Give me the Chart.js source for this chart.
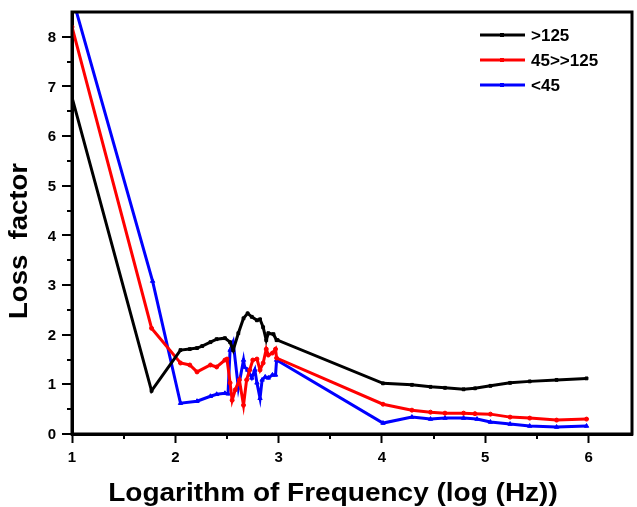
<!DOCTYPE html>
<html>
<head>
<meta charset="utf-8">
<script src="https://cdn.jsdelivr.net/npm/chart.js@4.4.1/dist/chart.umd.min.js"></script>
<style>
  html, body { margin: 0; padding: 0; background: #fff; }
  #wrap { width: 637px; height: 507px; }
</style>
</head>
<body>
<div id="wrap"><canvas id="lossChart" width="637" height="507"></canvas></div>
<script>
// values
const seriesNames = ['>125', '45>>125', '<45'];
const xTitle = 'Logarithm of Frequency (log (Hz))';
const yTitle = 'Loss  factor';

const blackX = [1.0, 1.77, 2.05, 2.14, 2.21, 2.26, 2.34, 2.40, 2.48, 2.53, 2.56, 2.61, 2.66, 2.70, 2.74, 2.79, 2.82, 2.85, 2.88, 2.90, 2.95, 2.98, 2.99,
  4.01, 4.29, 4.47, 4.61, 4.79, 4.90, 5.05, 5.24, 5.43, 5.69, 5.98];
const blackY = [6.78, 0.87, 1.69, 1.71, 1.73, 1.77, 1.85, 1.91, 1.93, 1.85, 1.69, 2.03, 2.33, 2.43, 2.36, 2.29, 2.31, 2.15, 1.89, 2.03, 2.01, 1.89, 1.89,
  1.02, 0.99, 0.95, 0.93, 0.90, 0.92, 0.97, 1.03, 1.06, 1.09, 1.12];

const redX = [1.0, 1.77, 2.05, 2.14, 2.21, 2.34, 2.40, 2.48, 2.50, 2.53, 2.55, 2.58, 2.62, 2.66, 2.69, 2.72, 2.75, 2.79, 2.82, 2.85, 2.88, 2.90, 2.94, 2.97, 2.98,
  4.01, 4.29, 4.47, 4.61, 4.79, 4.90, 5.05, 5.24, 5.43, 5.69, 5.98];
const redY = [8.2, 2.13, 1.43, 1.39, 1.25, 1.39, 1.35, 1.49, 1.51, 1.03, 0.68, 0.89, 1.09, 0.58, 1.09, 1.29, 1.49, 1.51, 1.29, 1.43, 1.71, 1.59, 1.63, 1.71, 1.53,
  0.60, 0.48, 0.44, 0.42, 0.42, 0.41, 0.40, 0.34, 0.32, 0.28, 0.30];

const blueX = [1.0, 1.78, 2.05, 2.21, 2.34, 2.40, 2.48, 2.51, 2.53, 2.56, 2.61, 2.66, 2.67, 2.70, 2.74, 2.77, 2.79, 2.82, 2.84, 2.87, 2.90, 2.94, 2.97, 2.98,
  4.01, 4.29, 4.47, 4.61, 4.79, 4.92, 5.05, 5.24, 5.43, 5.69, 5.98];
const blueY = [8.82, 3.08, 0.62, 0.66, 0.76, 0.80, 0.82, 0.81, 1.69, 1.85, 0.93, 1.49, 1.35, 1.29, 1.13, 1.29, 1.03, 0.72, 1.09, 1.15, 1.13, 1.19, 1.19, 1.49,
  0.22, 0.34, 0.30, 0.32, 0.32, 0.30, 0.24, 0.20, 0.16, 0.14, 0.16];

const yTicks = [0, 1, 2, 3, 4, 5, 6, 7, 8];
const xMinor = [1.5, 2.5, 3.5, 4.5, 5.5];
const yMinor = [0.5, 1.5, 2.5, 3.5, 4.5, 5.5, 6.5, 7.5];

const toPoints = (xs, ys) => xs.map((x, i) => ({ x: x, y: ys[i] }));

const FONT = '"Liberation Sans", Arial, sans-serif';

// frame, y ticks, minor ticks, stretched axis titles and the in-plot legend
const framePlugin = {
  id: 'frame',
  afterDraw(chart) {
    const { ctx, chartArea: a, scales } = chart;
    ctx.save();
    ctx.strokeStyle = '#000';
    ctx.lineWidth = 3;
    ctx.strokeRect(a.left, a.top, a.right - a.left, a.bottom - a.top);

    ctx.lineWidth = 2;
    ctx.beginPath();
    xMinor.forEach(v => {
      const px = Math.round(scales.x.getPixelForValue(v));
      ctx.moveTo(px, a.bottom);
      ctx.lineTo(px, a.bottom + 5);
    });
    yMinor.forEach(v => {
      const py = Math.round(scales.y.getPixelForValue(v));
      ctx.moveTo(a.left, py);
      ctx.lineTo(a.left - 5, py);
    });
    yTicks.forEach(v => {
      const py = Math.round(scales.y.getPixelForValue(v));
      ctx.moveTo(a.left, py);
      ctx.lineTo(a.left - 10, py);
    });
    ctx.stroke();

    ctx.fillStyle = '#000';
    ctx.font = 'bold 15px ' + FONT;
    ctx.textAlign = 'right';
    ctx.textBaseline = 'middle';
    yTicks.forEach(v => {
      ctx.fillText(String(v), 56, scales.y.getPixelForValue(v) + 1);
    });

    // axis titles
    ctx.font = 'bold 25px ' + FONT;
    ctx.textAlign = 'center';
    ctx.textBaseline = 'alphabetic';
    ctx.save();
    ctx.translate(333, 501);
    ctx.scale(1.12, 1);
    ctx.fillText(xTitle, 0, 0);
    ctx.restore();

    ctx.save();
    ctx.translate(27, 241);
    ctx.rotate(-Math.PI / 2);
    ctx.scale(1.1, 1);
    ctx.fillText(yTitle, 0, 0);
    ctx.restore();

    // legend
    const ds = chart.data.datasets;
    ctx.font = 'bold 17px ' + FONT;
    ctx.textAlign = 'left';
    ctx.textBaseline = 'middle';
    ds.forEach((d, i) => {
      const y = 35 + i * 25;
      ctx.strokeStyle = d.borderColor;
      ctx.lineWidth = 3;
      ctx.beginPath();
      ctx.moveTo(480, y);
      ctx.lineTo(525, y);
      ctx.stroke();
      ctx.fillStyle = d.borderColor;
      ctx.fillRect(500, y - 2, 4, 4);
      ctx.fillStyle = '#000';
      ctx.fillText(d.label, 531, y + 1);
    });
    ctx.restore();
  }
};

new Chart(document.getElementById('lossChart'), {
  type: 'line',
  data: {
    datasets: [
      { label: seriesNames[0], data: toPoints(blackX, blackY), borderColor: '#000000', backgroundColor: '#000000', pointStyle: 'rect', pointRadius: 2 },
      { label: seriesNames[1], data: toPoints(redX, redY), borderColor: '#ff0000', backgroundColor: '#ff0000', pointStyle: 'circle', pointRadius: 2 },
      { label: seriesNames[2], data: toPoints(blueX, blueY), borderColor: '#0000ff', backgroundColor: '#0000ff', pointStyle: 'triangle', pointRadius: 2.5 }
    ]
  },
  options: {
    responsive: false,
    animation: false,
    devicePixelRatio: 1,
    layout: { padding: { left: 0, top: 12, right: 5, bottom: 0 } },
    elements: {
      line: { borderWidth: 3, tension: 0 },
      point: { borderWidth: 1 }
    },
    plugins: {
      legend: { display: false },
      tooltip: { enabled: false }
    },
    scales: {
      x: {
        type: 'linear',
        min: 1,
        max: 6.42,
        afterFit: (s) => { s.height = 73; },
        border: { display: true, color: '#000', width: 3 },
        grid: { display: true, drawOnChartArea: false, drawTicks: true, tickLength: 9, tickWidth: 2, tickColor: '#000' },
        ticks: {
          stepSize: 1,
          includeBounds: false,
          autoSkip: false,
          maxRotation: 0,
          padding: 6,
          color: '#000',
          font: { family: FONT, size: 15, weight: 'bold' }
        },
        title: { display: false }
      },
      y: {
        type: 'linear',
        min: 0,
        max: 8.5,
        afterFit: (s) => { s.width = 72; },
        border: { display: true, color: '#000', width: 3 },
        grid: { display: false },
        ticks: { display: false, stepSize: 1 },
        title: { display: false }
      }
    }
  },
  plugins: [framePlugin]
});
</script>
</body>
</html>
